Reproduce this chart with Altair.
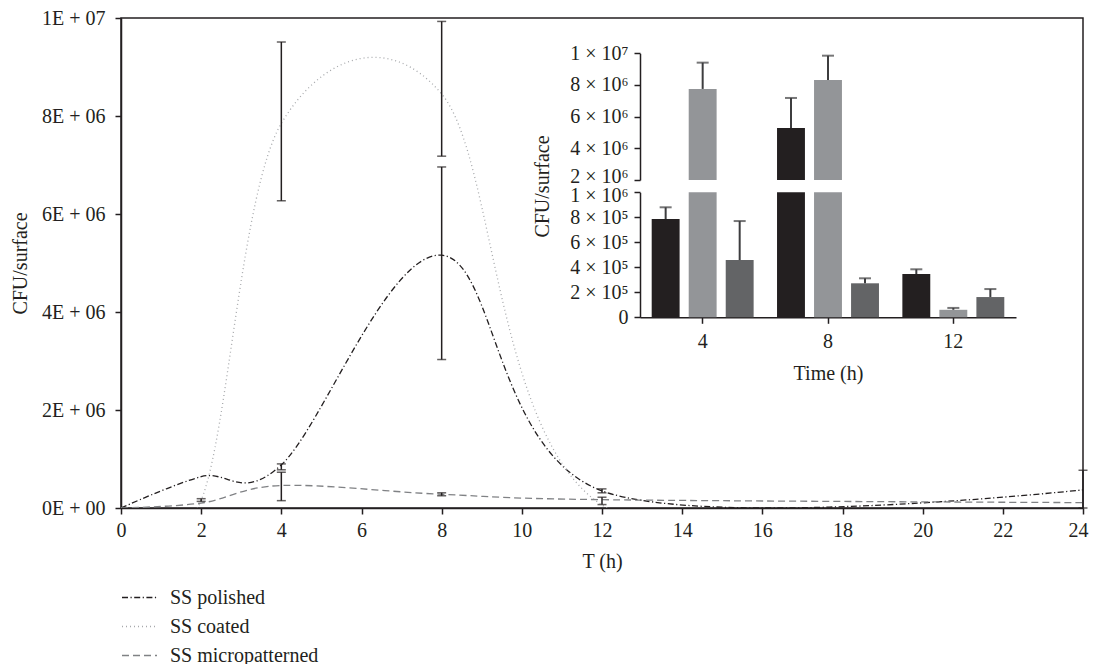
import altair as alt
import pandas as pd

SERIES = ["SS polished", "SS coated", "SS micropatterned"]

# ---- main time course (T in hours, CFU per surface) ----
t_hours = [0, 2, 4, 8, 12, 24]
polished_cfu = [0, 640000, 880000, 5160000, 350000, 370000]
coated_cfu = [0, 160000, 7850000, 8450000, 60000, 0]
micro_cfu = [0, 100000, 460000, 280000, 170000, 110000]

# ---- main error bars ----
err_t = [2, 4, 4, 4, 8, 8, 8, 12, 12, 24]
err_series = ["SS coated", "SS polished", "SS coated", "SS micropatterned",
              "SS coated", "SS polished", "SS micropatterned",
              "SS polished", "SS micropatterned", "SS polished"]
err_lo = [135000, 780000, 6270000, 150000, 7180000, 3030000, 250000, 310000, 70000, 0]
err_hi = [190000, 900000, 9510000, 730000, 9930000, 6960000, 310000, 390000, 220000, 770000]

# ---- inset bar chart ----
inset_time = ["4", "8", "12"]
inset_polished = [786000, 5280000, 346000]
inset_polished_hi = [880000, 7180000, 384000]
inset_coated = [7750000, 8320000, 60000]
inset_coated_hi = [9410000, 9850000, 75000]
inset_micro = [458000, 272000, 162000]
inset_micro_hi = [770000, 312000, 226000]

# ---- tick labels ----
main_x_ticks = [0, 2, 4, 6, 8, 10, 12, 14, 16, 18, 20, 22, 24]
main_y_ticks = [0, 2000000, 4000000, 6000000, 8000000, 10000000]
main_y_labels = ["0E + 00", "2E + 06", "4E + 06", "6E + 06", "8E + 06", "1E + 07"]
upper_ticks = [2000000, 4000000, 6000000, 8000000, 10000000]
upper_labels = ["2 × 10⁶", "4 × 10⁶", "6 × 10⁶", "8 × 10⁶", "1 × 10⁷"]
lower_ticks = [0, 200000, 400000, 600000, 800000, 1000000]
lower_labels = ["0", "2 × 10⁵", "4 × 10⁵", "6 × 10⁵", "8 × 10⁵", "1 × 10⁶"]

FONT = "Liberation Serif"
INK = "#231f20"
ERR_INK = "#3d3d3f"
LINE_COLORS = ["#231f20", "#a7a9ac", "#808285"]
LINE_DASH = [[6, 2.5, 1.2, 2.5], [1, 3], [7, 4]]
BAR_COLORS = ["#231f20", "#939598", "#636466"]
W, H = 962, 490


def label_expr(vals, labels):
    expr = "''"
    for v, l in reversed(list(zip(vals, labels))):
        expr = f"datum.value == {int(v)} ? '{l}' : ({expr})"
    return expr


# ---------------- data frames ----------------
line_rows = []
for s, vals in zip(SERIES, [polished_cfu, coated_cfu, micro_cfu]):
    for t, v in zip(t_hours, vals):
        line_rows.append({"series": s, "t": t, "cfu": v})
line_df = pd.DataFrame(line_rows)

err_df = pd.DataFrame({"t": err_t, "series": err_series, "cfu": err_lo, "cfu_hi": err_hi})
cap_df = pd.DataFrame({"t": err_t + err_t, "cfu": err_lo + err_hi})

inset_rows = []
for s, vals, his in zip(SERIES, [inset_polished, inset_coated, inset_micro],
                        [inset_polished_hi, inset_coated_hi, inset_micro_hi]):
    for tm, v, h in zip(inset_time, vals, his):
        inset_rows.append({"time": tm, "series": s, "value": v, "hi": h})
inset_df = pd.DataFrame(inset_rows)


# ---------------- scales ----------------
def sx_main():
    return alt.Scale(domain=[0, 24], nice=False, zero=False)


def sy_main():
    return alt.Scale(domain=[0, 10000000], nice=False)


def sx_in():
    return alt.Scale(domain=inset_time, range=[519, 895], paddingInner=0, paddingOuter=0)


def sy_up():
    return alt.Scale(domain=[2000000, 10000000], range=[162, 35.3], nice=False, zero=False,
                     clamp=True)


def sy_lo():
    return alt.Scale(domain=[0, 1000000], range=[299.3, 174.3], nice=False, zero=False,
                     clamp=True)


# ---------------- main chart ----------------
x_main = alt.X("t:Q", scale=sx_main(),
               axis=alt.Axis(orient="bottom", values=main_x_ticks, format="d", title="T (h)",
                             labelPadding=6, tickSize=6, titleY=53, titleBaseline="middle",
                             labelFlush=True, labelFlushOffset=5))
y_main = alt.Y("cfu:Q", scale=sy_main(),
               axis=alt.Axis(orient="left", values=main_y_ticks,
                             labelExpr=label_expr(main_y_ticks, main_y_labels),
                             title="CFU/surface", titleX=-101, titleY=245, titleAngle=-90,
                             titleAlign="center", titleBaseline="middle",
                             labelPadding=10, tickSize=6, labelOverlap=False, labelFlush=False))

line_legend = alt.Legend(title=None, orient="none", legendX=0, legendY=561,
                         symbolType="stroke", symbolSize=1225, symbolStrokeWidth=1.3,
                         labelFont=FONT, labelFontSize=20, labelColor=INK, labelOffset=12,
                         rowPadding=-9.5, padding=0)

lines = alt.Chart(line_df).mark_line(interpolate="cardinal", tension=0, clip=True,
                                     strokeWidth=1.3).encode(
    x=x_main,
    y=y_main,
    stroke=alt.Stroke("series:N", sort=SERIES,
                      scale=alt.Scale(domain=SERIES, range=LINE_COLORS), legend=line_legend),
    strokeDash=alt.StrokeDash("series:N", sort=SERIES,
                              scale=alt.Scale(domain=SERIES, range=LINE_DASH), legend=line_legend),
    detail="series:N",
)

err_rules = alt.Chart(err_df).mark_rule(color=INK, strokeWidth=1.5).encode(
    x=alt.X("t:Q", scale=sx_main(), axis=None),
    y=alt.Y("cfu:Q", scale=sy_main(), axis=None),
    y2=alt.Y2("cfu_hi:Q"))
err_caps = alt.Chart(cap_df).mark_tick(color=INK, thickness=1.5, size=9,
                                       orient="horizontal").encode(
    x=alt.X("t:Q", scale=sx_main(), axis=None),
    y=alt.Y("cfu:Q", scale=sy_main(), axis=None))

# ---------------- inset ----------------
x_in_axis = alt.X("time:N", sort=inset_time, scale=sx_in(),
                  axis=alt.Axis(orient="bottom", offset=-190.7, title="Time (h)", labelAngle=0,
                                labelPadding=8, tickSize=6, titleY=56,
                                titleBaseline="middle"))


def x_in():
    return alt.X("time:N", sort=inset_time, scale=sx_in(), axis=None)


def xoff():
    return alt.XOffset("series:N", sort=SERIES,
                       scale=alt.Scale(domain=SERIES, paddingInner=0.246, paddingOuter=0.316))


bar_legend = alt.Legend(title=None, orient="none", legendX=521, legendY=386,
                        symbolType="M-1,-0.6H1V0.6H-1Z", symbolSize=529, symbolStrokeWidth=0,
                        symbolOpacity=1, labelFont=FONT, labelFontSize=20, labelColor=INK,
                        labelOffset=12, rowPadding=5.5, padding=0)


def fill():
    return alt.Fill("series:N", sort=SERIES, scale=alt.Scale(domain=SERIES, range=BAR_COLORS),
                    legend=bar_legend)


y_up_axis = alt.Y("value:Q", scale=sy_up(),
                  axis=alt.Axis(orient="left", offset=-519, values=upper_ticks,
                                labelExpr=label_expr(upper_ticks, upper_labels), title="",
                                labelPadding=6, tickSize=6, labelOverlap=False,
                                labelFlush=False,
                                labelBaseline={"condition": {"test": "datum.value == 2000000",
                                                             "value": "bottom"},
                                               "value": "middle"},
                                labelOffset={"condition": {"test": "datum.value == 2000000",
                                                           "value": 6}, "value": 0}))
y_lo_axis = alt.Y("value:Q", scale=sy_lo(),
                  axis=alt.Axis(orient="left", offset=-519, values=lower_ticks,
                                labelExpr=label_expr(lower_ticks, lower_labels),
                                title="CFU/surface", titleX=-98, titleY=168, titleAngle=-90,
                                titleAlign="center", titleBaseline="middle",
                                labelPadding=6, tickSize=6, labelOverlap=False,
                                labelFlush=False,
                                labelBaseline={"condition": {"test": "datum.value == 1000000",
                                                             "value": "top"},
                                               "value": "middle"},
                                labelOffset={"condition": {"test": "datum.value == 1000000",
                                                           "value": -7}, "value": 0}))

up_base = alt.Chart(inset_df).transform_filter("datum.value > 2000000")
up_bars = up_base.mark_bar().encode(
    x=x_in(), xOffset=xoff(), y=y_up_axis, y2=alt.datum(2000000), fill=fill())
up_err = up_base.mark_rule(color=ERR_INK, strokeWidth=2).encode(
    x=x_in(), xOffset=xoff(), y=alt.Y("value:Q", scale=sy_up(), axis=None), y2=alt.Y2("hi:Q"))
up_caps = up_base.mark_tick(color=ERR_INK, thickness=2, size=12, orient="horizontal").encode(
    x=x_in(), xOffset=xoff(), y=alt.Y("hi:Q", scale=sy_up(), axis=None))

lo_base = alt.Chart(inset_df)
lo_bars = lo_base.mark_bar().encode(
    x=x_in_axis, xOffset=xoff(), y=y_lo_axis, y2=alt.datum(0), fill=fill())
lo_err = lo_base.transform_filter("datum.value < 1000000").mark_rule(
    color=ERR_INK, strokeWidth=2).encode(
    x=x_in(), xOffset=xoff(), y=alt.Y("value:Q", scale=sy_lo(), axis=None), y2=alt.Y2("hi:Q"))
lo_caps = lo_base.transform_filter("datum.value < 1000000").mark_tick(
    color=ERR_INK, thickness=2, size=12, orient="horizontal").encode(
    x=x_in(), xOffset=xoff(), y=alt.Y("hi:Q", scale=sy_lo(), axis=None))

chart = alt.layer(
    lines, err_rules, err_caps,
    up_bars, up_err, up_caps,
    lo_bars, lo_err, lo_caps,
).resolve_scale(
    x="independent", y="independent"
).properties(
    width=W, height=H,
    padding={"left": 113, "top": 10, "right": 6, "bottom": 156},
    autosize=alt.AutoSizeParams(type="none"),
    background="white",
).configure_axis(
    domainColor=INK, domainWidth=1.5, tickColor=INK, tickWidth=1.5,
    labelFont=FONT, labelFontSize=20, labelColor=INK,
    titleFont=FONT, titleFontSize=20, titleColor=INK, titleFontWeight="normal",
    grid=False,
).configure_view(stroke=INK, strokeWidth=1.5)

chart.save("out.html", embed_options={"renderer": "svg", "actions": False})
